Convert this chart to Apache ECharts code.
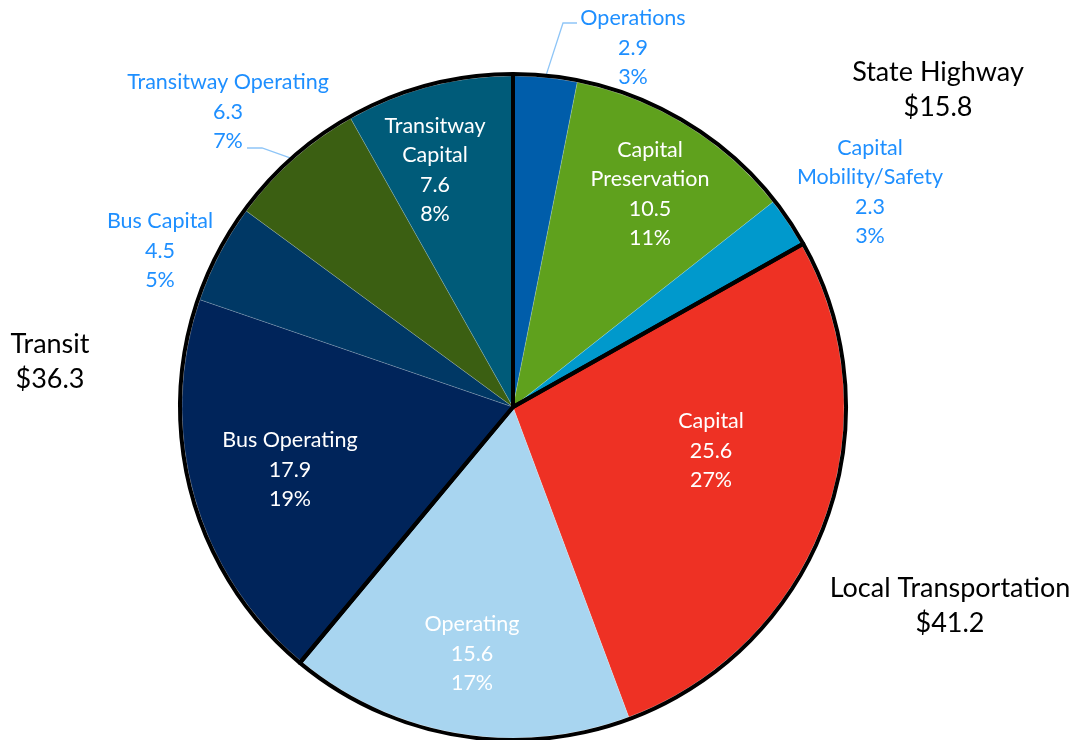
<!DOCTYPE html>
<html><head><meta charset="utf-8">
<script src="https://cdn.jsdelivr.net/npm/echarts@6/dist/echarts.min.js"></script>
<style>html,body{margin:0;padding:0;background:#fff}#c{width:1079px;height:740px}</style>
</head><body><div id="c"></div>
<script>
// ---- data ----
const categories = ['Operations','Capital Preservation','Capital Mobility/Safety','Capital','Operating','Bus Operating','Bus Capital','Transitway Operating','Transitway Capital'];
const labelNames = ['Operations','Capital\nPreservation','Capital\nMobility/Safety','Capital','Operating','Bus Operating','Bus Capital','Transitway Operating','Transitway\nCapital'];
const values = [2.9, 10.5, 2.3, 25.6, 15.6, 17.9, 4.5, 6.3, 7.6];
const percents = ['3%','11%','3%','27%','17%','19%','5%','7%','8%'];
const sliceGroup = ['State Highway','State Highway','State Highway','Local Transportation','Local Transportation','Transit','Transit','Transit','Transit'];
const groups = ['State Highway','Local Transportation','Transit'];
const groupTotals = ['15.8','41.2','36.3'];

// ---- styles ----
const colors = ['#005DAA','#5FA11D','#0099CC','#EE3124','#A8D5F0','#00245A','#003865','#3B5F12','#005B79'];
const outside = {'Operations':1,'Capital Mobility/Safety':1,'Bus Capital':1,'Transitway Operating':1};
const labelSpots = {
  'Operations':[633,48],
  'Capital Preservation':[650,194],
  'Capital Mobility/Safety':[870,192],
  'Capital':[711,451],
  'Operating':[472,654],
  'Bus Operating':[290,470],
  'Bus Capital':[160,251],
  'Transitway Operating':[228,112],
  'Transitway Capital':[435,170]
};
const leaderElbows = {
  'Operations':[[563,23],[577,23]],
  'Transitway Operating':[[262,148],[247,148]]
};
const groupSpots = {'State Highway':[938,90],'Local Transportation':[950,606],'Transit':[50,362]};
const FONT = 'Lato, "Open Sans", sans-serif';
const CENTER = [513, 407];

const groupValues = groups.map(g => values.reduce((s, v, i) => s + (sliceGroup[i] === g ? v : 0), 0));

const chart = echarts.init(document.getElementById('c'), null, {renderer:'canvas'});
chart.setOption({
  animation:false,
  backgroundColor:'#ffffff',
  series:[
    {
      type:'pie', center:CENTER, radius:[0,331], startAngle:90, clockwise:true,
      silent:true, avoidLabelOverlap:false,
      itemStyle:{borderColor:'rgba(255,255,255,0.35)', borderWidth:0.5},
      label:{show:true, position:'outside', fontFamily:FONT, fontSize:21.5, lineHeight:29.5, align:'center',
        formatter:p => labelNames[p.dataIndex] + '\n' + values[p.dataIndex].toFixed(1) + '\n' + percents[p.dataIndex]},
      labelLine:{show:false},
      labelLayout:function(p){
        const name = categories[p.dataIndex];
        const s = labelSpots[name];
        const out = {x:s[0], y:s[1], align:'center', verticalAlign:'middle'};
        if (leaderElbows[name] && p.labelLinePoints) {
          out.labelLinePoints = [p.labelLinePoints[0]].concat(leaderElbows[name]);
        }
        return out;
      },
      data: categories.map((c, i) => ({
        name:c, value:values[i],
        itemStyle:{color:colors[i]},
        label:{color: outside[c] ? '#1E8FFF' : '#FFFFFF'},
        labelLine: leaderElbows[c] ? {show:true, length:10, length2:10, lineStyle:{color:'#8EC5F7', width:1.3}} : {show:false}
      }))
    },
    {
      type:'pie', center:CENTER, radius:[0,333], startAngle:90, clockwise:true,
      silent:true, avoidLabelOverlap:false, z:5,
      itemStyle:{color:'rgba(0,0,0,0)', borderColor:'#000000', borderWidth:4},
      label:{show:true, position:'outside', fontFamily:FONT, fontSize:27, lineHeight:35, color:'#000000', align:'center',
        formatter:p => groups[p.dataIndex] + '\n$' + groupTotals[p.dataIndex]},
      labelLine:{show:false},
      labelLayout:function(p){
        const s = groupSpots[groups[p.dataIndex]];
        return {x:s[0], y:s[1], align:'center', verticalAlign:'middle'};
      },
      data: groups.map((g, i) => ({name:g, value:groupValues[i]}))
    }
  ]
});
</script></body></html>
